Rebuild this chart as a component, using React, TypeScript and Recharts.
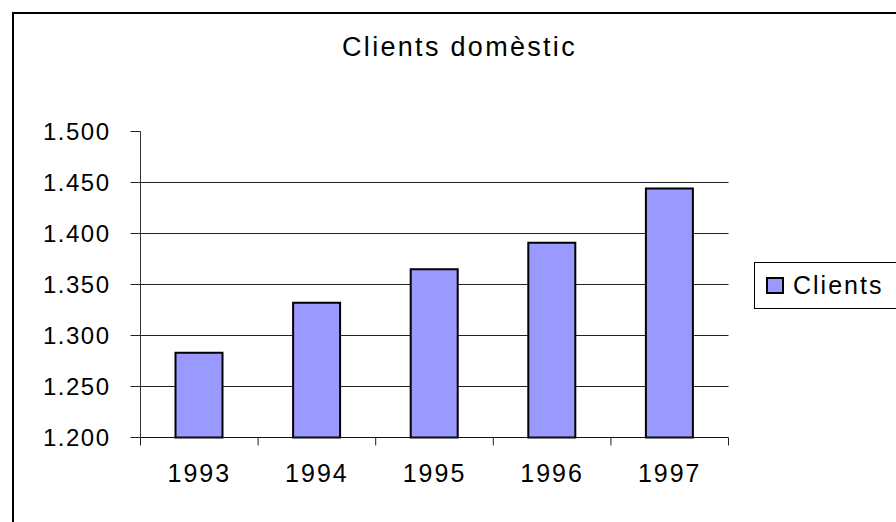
import React from 'react';
import { BarChart, Bar, XAxis, YAxis, CartesianGrid, Legend } from 'recharts';

const years = ['1993', '1994', '1995', '1996', '1997'];
const clients = [1283, 1332, 1365, 1391, 1444];
const yTicks = [1200, 1250, 1300, 1350, 1400, 1450, 1500];
const gridValues = [1250, 1300, 1350, 1400, 1450];

const data = years.map((year, i) => ({ year, clients: clients[i] }));

const FONT = '"Liberation Sans", Arial, sans-serif';
const X_TICK_SIZE = 8;
const X_TICK_MARGIN = 19;

const formatThousands = (v: number) => String(v).replace(/\B(?=(\d{3})+(?!\d))/g, '.');

// category label plus tick marks on the category boundaries (Excel style)
const CategoryTick = (props: any) => {
  const { x, y, payload, index, visibleTicksCount } = props;
  const half = payload && payload.offset ? payload.offset : 0;
  const yTop = y - X_TICK_MARGIN - X_TICK_SIZE;
  const yBottom = y - X_TICK_MARGIN;
  const isLast = visibleTicksCount ? index === visibleTicksCount - 1 : index === years.length - 1;
  return (
    <g>
      <line x1={x - half} x2={x - half} y1={yTop} y2={yBottom} stroke="#222" />
      {isLast && <line x1={x + half} x2={x + half} y1={yTop} y2={yBottom} stroke="#222" />}
      <text
        x={x}
        y={y}
        dy="0.71em"
        textAnchor="middle"
        fill="#000"
        fontSize={25}
        letterSpacing={2}
        fontFamily={FONT}
      >
        {payload.value}
      </text>
    </g>
  );
};

const renderLegend = (props: any) => {
  const { payload } = props;
  return (
    <div
      style={{
        border: '1px solid #000',
        height: 47,
        width: 160,
        boxSizing: 'border-box',
        display: 'flex',
        alignItems: 'center',
        paddingLeft: 11,
        background: '#fff',
      }}
    >
      {(payload || []).map((entry: any) => (
        <div key={entry.value} style={{ display: 'flex', alignItems: 'center' }}>
          <span
            style={{
              display: 'inline-block',
              width: 18,
              height: 17,
              boxSizing: 'border-box',
              border: '2px solid #000',
              background: entry.color,
              marginRight: 9,
            }}
          />
          <span style={{ fontSize: 25, letterSpacing: 2, color: '#000', fontFamily: FONT, lineHeight: '25px' }}>
            {entry.value}
          </span>
        </div>
      ))}
    </div>
  );
};

const App: React.FC = () => {
  return (
    <div
      style={{
        position: 'fixed',
        left: 0,
        top: 0,
        width: 896,
        height: 522,
        overflow: 'hidden',
        background: '#fff',
        fontFamily: FONT,
      }}
    >
      <div
        style={{
          position: 'absolute',
          left: 12,
          top: 12,
          width: 1000,
          height: 1000,
          border: '2px solid #000',
        }}
      />
      <div
        style={{
          position: 'absolute',
          left: 0,
          top: 34,
          width: 919,
          textAlign: 'center',
          fontSize: 27,
          lineHeight: '27px',
          letterSpacing: 2.3,
          color: '#000',
        }}
      >
        Clients domèstic
      </div>
      <div style={{ position: 'absolute', left: 0, top: 0 }}>
        <BarChart width={896} height={522} data={data} margin={{ top: 131.5, right: 167.5, bottom: 44.5, left: 0.5 }}>
          <CartesianGrid horizontal vertical={false} horizontalValues={gridValues} stroke="#222" />
          <XAxis
            dataKey="year"
            height={40}
            interval={0}
            tickLine={false}
            tickSize={X_TICK_SIZE}
            tickMargin={X_TICK_MARGIN}
            axisLine={{ stroke: '#111' }}
            tick={<CategoryTick />}
          />
          <YAxis
            width={140}
            domain={[1200, 1500]}
            ticks={yTicks}
            interval={0}
            tickFormatter={formatThousands}
            tickSize={10}
            tickMargin={20}
            axisLine={{ stroke: '#333' }}
            tickLine={{ stroke: '#222' }}
            tick={{ fill: '#000', fontSize: 24, letterSpacing: 1.5, fontFamily: FONT }}
          />
          <Legend
            layout="horizontal"
            verticalAlign="middle"
            align="center"
            content={renderLegend}
            wrapperStyle={{ left: 754, top: 262, width: 160 }}
          />
          <Bar
            dataKey="clients"
            name="Clients"
            fill="#9999FF"
            stroke="#000"
            strokeWidth={2}
            barSize={47}
            isAnimationActive={false}
          />
        </BarChart>
      </div>
    </div>
  );
};

export default App;
